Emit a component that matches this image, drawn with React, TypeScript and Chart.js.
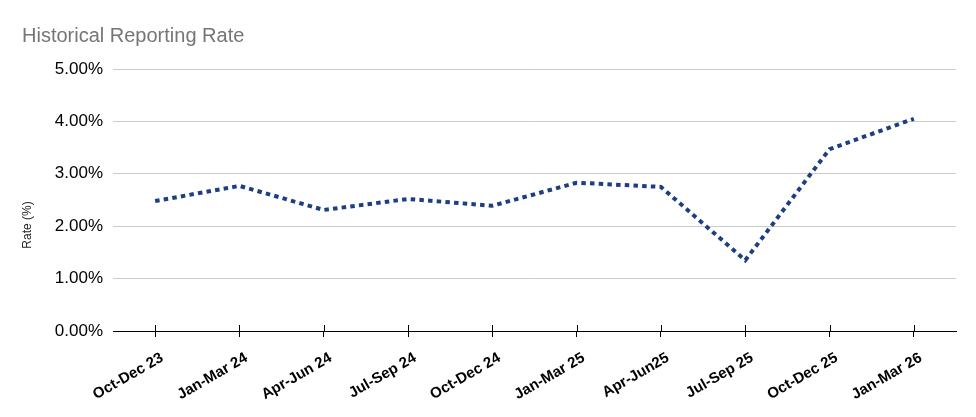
import React, { useEffect, useRef } from "react";
import { Chart, registerables } from "chart.js";

Chart.register(...registerables);

const categories = [
  "Oct-Dec 23",
  "Jan-Mar 24",
  "Apr-Jun 24",
  "Jul-Sep 24",
  "Oct-Dec 24",
  "Jan-Mar 25",
  "Apr-Jun25",
  "Jul-Sep 25",
  "Oct-Dec 25",
  "Jan-Mar 26",
];

const rateValues = [2.48, 2.77, 2.31, 2.52, 2.39, 2.83, 2.75, 1.35, 3.47, 4.05];

const chartTitle = "Historical Reporting Rate";
const yAxisTitle = "Rate (%)";
const yMin = 0;
const yMax = 5;
const yStep = 1;

const FONT = "'Liberation Sans', Arial, sans-serif";

const extrasPlugin = {
  id: "extras",
  afterDatasetsDraw(chart: any) {
    const { ctx, chartArea, scales } = chart;
    const x = scales.x;
    ctx.save();
    ctx.strokeStyle = "#000000";
    ctx.lineWidth = 1;
    ctx.beginPath();
    for (let i = 0; i < categories.length; i++) {
      const px = Math.round(x.getPixelForValue(i)) + 0.5;
      ctx.moveTo(px, chartArea.bottom - 6);
      ctx.lineTo(px, chartArea.bottom);
    }
    ctx.stroke();
    ctx.restore();
  },
  afterDraw(chart: any) {
    const { ctx, chartArea, scales } = chart;
    const y = scales.y;
    ctx.save();
    ctx.fillStyle = "#222222";
    ctx.font = `12px ${FONT}`;
    ctx.textAlign = "center";
    ctx.textBaseline = "middle";
    const cx = y.left + 6;
    const cy = (chartArea.top + chartArea.bottom) / 2 + 25;
    ctx.translate(cx, cy);
    ctx.rotate(-Math.PI / 2);
    ctx.fillText(yAxisTitle, 0, 0);
    ctx.restore();
  },
};

export default function App() {
  const canvasRef = useRef<HTMLCanvasElement | null>(null);

  useEffect(() => {
    document.body.style.margin = "0";
    const canvas = canvasRef.current;
    if (!canvas) return;
    const chart = new Chart(canvas, {
      type: "line",
      data: {
        labels: categories,
        datasets: [
          {
            label: yAxisTitle,
            data: rateValues,
            borderColor: "#1c3f83",
            backgroundColor: "#1c3f83",
            borderWidth: 4,
            borderDash: [4.5, 4.2],
            borderCapStyle: "butt",
            pointRadius: 0,
            pointHoverRadius: 0,
            tension: 0,
            fill: false,
          },
        ],
      },
      options: {
        responsive: false,
        animation: false,
        layout: { padding: { left: 22, right: 20, top: 0, bottom: 0 } },
        plugins: {
          legend: { display: false },
          tooltip: { enabled: false },
          title: {
            display: true,
            text: chartTitle,
            align: "start",
            color: "#757575",
            font: { family: FONT, size: 20, weight: "normal" },
            padding: { top: 24, bottom: 21 },
          },
        },
        scales: {
          x: {
            type: "category",
            offset: true,
            grid: {
              display: true,
              drawOnChartArea: false,
              drawTicks: true,
              tickLength: 6,
              color: "#000000",
              offset: false,
            },
            border: { display: true, color: "#000000", width: 1 },
            ticks: {
              color: "#000000",
              font: { family: FONT, size: 15, weight: "bold" },
              minRotation: 30,
              maxRotation: 30,
              autoSkip: false,
              padding: 12,
              labelOffset: 7,
            },
            afterFit(scale: any) {
              scale.height = 86;
            },
          },
          y: {
            min: yMin,
            max: yMax,
            ticks: {
              stepSize: yStep,
              color: "#000000",
              font: { family: FONT, size: 17 },
              padding: 10,
              callback: (v: any) => Number(v).toFixed(2) + "%",
            },
            grid: {
              color: (c: any) => (c.tick && c.tick.value === 0 ? "#000000" : "#cccccc"),
              drawTicks: false,
              lineWidth: 1,
            },
            border: { display: false },
            afterFit(scale: any) {
              scale.width = 91;
            },
          },
        },
      },
      plugins: [extrasPlugin],
    });
    return () => chart.destroy();
  }, []);

  return (
    <div style={{ position: "relative", width: 976, height: 417 }}>
      <canvas ref={canvasRef} width={976} height={417} style={{ display: "block" }} />
    </div>
  );
}
